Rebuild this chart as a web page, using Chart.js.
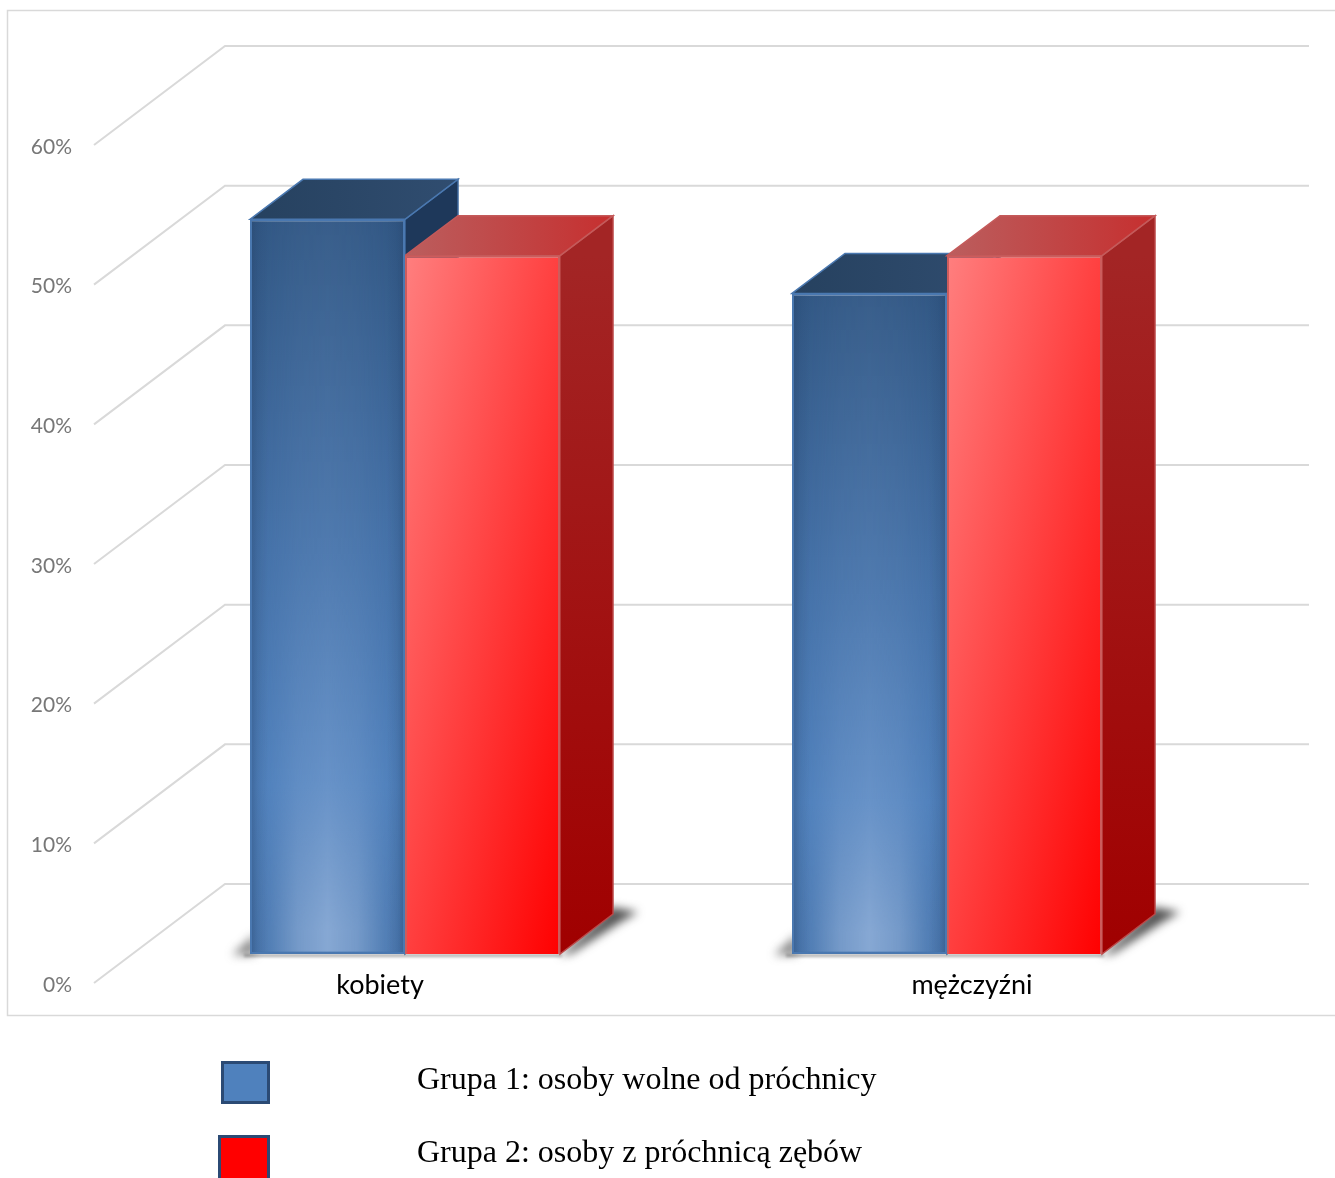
<!DOCTYPE html>
<html lang="pl">
<head>
<meta charset="utf-8">
<title>Próchnica</title>
<script src="https://cdn.jsdelivr.net/npm/chart.js@4"></script>
<style>
  html, body { margin: 0; padding: 0; background: #fff; overflow: hidden; }
  #wrap { position: relative; width: 1335px; height: 1178px; overflow: hidden; }
  canvas { position: absolute; left: 0; top: 0; }
  .swatch { position: absolute; box-sizing: border-box; border: 3px solid #2b4a74; }
  .legendText { position: absolute; left: 417px; font: 32px "Liberation Serif", serif; color: #000; white-space: nowrap; line-height: 40px; }
</style>
</head>
<body>
<div id="wrap">
  <canvas id="cariesChart" width="1335" height="1178"></canvas>
</div>
<script>
// Data
const categories = ["kobiety", "mężczyźni"];
const seriesNames = ["Grupa 1: osoby wolne od próchnicy", "Grupa 2: osoby z próchnicą zębów"];
const group1 = [52.6, 47.3];
const group2 = [50, 50];
const yTicks = [0, 10, 20, 30, 40, 50, 60];

// Fake 3D box: depth of a bar, and where the walls sit relative to the bar plane
const depthX = 53, depthY = 40;
const wallX = 91, wallY = 70, frontX = 40, frontY = 29;
const categoryPct = 0.572;
const categoryLabelShift = [-25, 25];

function barWidth(chart) {
    return chart.scales.x.width / categories.length * categoryPct / 2;
}

function blueFront(c) {
    const y = c.chart.scales.y;
    const top = y.getPixelForValue(c.raw), base = y.getPixelForValue(0);
    // options also get resolved before the layout is done
    if (!isFinite(top) || !isFinite(base)) return "#4a78b0";
    const g = c.chart.ctx.createLinearGradient(0, top, 0, base);
    g.addColorStop(0, "#325885");
    g.addColorStop(0.45, "#4572a9");
    g.addColorStop(0.77, "#4f80bc");
    g.addColorStop(1, "#4a78b0");
    return g;
}

function redFront(c) {
    const { x, y } = c.chart.scales;
    const w = barWidth(c.chart);
    const left = x.getPixelForValue(c.dataIndex);
    const top = y.getPixelForValue(c.raw), base = y.getPixelForValue(0);
    if (![w, left, top, base].every(isFinite)) return "#ff3030";
    const h = base - top;
    // gradient axis runs so that the other two corners get the same colour
    const k = (w * h + w * h) / (h * h + w * w);
    const g = c.chart.ctx.createLinearGradient(left, top, left + h * k, top + w * k);
    g.addColorStop(0, "#ff7f7f");
    g.addColorStop(1, "#ff0000");
    return g;
}

function poly(ctx, pts, fill, stroke) {
    ctx.beginPath();
    pts.forEach((p, i) => i ? ctx.lineTo(p[0], p[1]) : ctx.moveTo(p[0], p[1]));
    ctx.closePath();
    ctx.fillStyle = fill;
    ctx.fill();
    if (stroke) {
        ctx.strokeStyle = stroke;
        ctx.lineWidth = 1.5;
        ctx.stroke();
    }
}

// Soft highlight on the blue bars, brighter towards the floor
function blueGlow(w, h) {
    const off = document.createElement("canvas");
    off.width = Math.ceil(w);
    off.height = Math.ceil(h);
    const o = off.getContext("2d");
    let g = o.createLinearGradient(0, 0, w, 0);
    g.addColorStop(0, "rgba(178,202,236,0)");
    g.addColorStop(0.12, "rgba(178,202,236,0.15)");
    g.addColorStop(0.3, "rgba(178,202,236,0.7)");
    g.addColorStop(0.5, "rgba(178,202,236,1)");
    g.addColorStop(0.7, "rgba(178,202,236,0.7)");
    g.addColorStop(0.88, "rgba(178,202,236,0.15)");
    g.addColorStop(1, "rgba(178,202,236,0)");
    o.fillStyle = g;
    o.fillRect(0, 0, w, h);
    o.globalCompositeOperation = "destination-in";
    g = o.createLinearGradient(0, 0, 0, h);
    g.addColorStop(0, "rgba(0,0,0,0.05)");
    g.addColorStop(0.45, "rgba(0,0,0,0.1)");
    g.addColorStop(0.77, "rgba(0,0,0,0.25)");
    g.addColorStop(0.97, "rgba(0,0,0,0.58)");
    g.addColorStop(1, "rgba(0,0,0,0.58)");
    o.fillStyle = g;
    o.fillRect(0, 0, w, h);
    return off;
}

const box3d = {
    id: "box3d",
    beforeDraw(chart) {
        const ctx = chart.ctx, y = chart.scales.y, area = chart.chartArea;
        ctx.save();
        // outer frame, its right side runs off the page
        ctx.strokeStyle = "#d9d9d9";
        ctx.lineWidth = 1.5;
        ctx.strokeRect(7.5, 10.5, 1340, 1005);
        // gridlines: floor/side wall diagonal, then along the back wall
        ctx.lineWidth = 2;
        yTicks.forEach(v => {
            const py = y.getPixelForValue(v);
            ctx.beginPath();
            ctx.moveTo(area.left - frontX, py + frontY);
            ctx.lineTo(area.left + wallX, py - wallY);
            ctx.lineTo(area.right + wallX, py - wallY);
            ctx.stroke();
        });
        ctx.restore();
    },
    beforeDatasetsDraw(chart) {
        const ctx = chart.ctx, y = chart.scales.y;
        const base = y.getPixelForValue(0);
        const blue = chart.getDatasetMeta(0).data, red = chart.getDatasetMeta(1).data;

        // floor shadows
        ctx.save();
        ctx.filter = "blur(5px)";
        blue.forEach((b, i) => {
            const l = b.x - b.width / 2;
            const r = red[i].x + red[i].width / 2;
            poly(ctx, [[l - 18, base + 1], [l + 5, base - 20], [l + 5, base + 1]], "rgba(70,70,70,0.65)");
            poly(ctx, [[r, base + 2], [r + 12, base - 1], [r + 62, base - 33], [r + 78, base - 42], [r + 50, base - 47], [r + 46, base - 40]], "rgba(50,50,50,0.85)");
        });
        ctx.filter = "blur(1.5px)";
        blue.forEach((b, i) => {
            const l = b.x - b.width / 2;
            const r = red[i].x + red[i].width / 2;
            poly(ctx, [[l - 6, base], [r + 2, base], [r + 2, base + 3], [l - 6, base + 3]], "rgba(90,90,90,0.5)");
        });
        ctx.restore();

        // top and side of each bar, blue first so red overlaps it
        ctx.save();
        blue.forEach(b => {
            const l = b.x - b.width / 2, r = b.x + b.width / 2, t = b.y;
            const gTop = ctx.createLinearGradient(l, 0, r + depthX, 0);
            gTop.addColorStop(0, "#26415f");
            gTop.addColorStop(1, "#304d70");
            poly(ctx, [[r, t], [r + depthX, t - depthY], [r + depthX, base - depthY], [r, base]], "#1e385a", "#3f6a9e");
            poly(ctx, [[l, t], [l + depthX, t - depthY], [r + depthX, t - depthY], [r, t]], gTop, "#4a78b0");
        });
        red.forEach(b => {
            const l = b.x - b.width / 2, r = b.x + b.width / 2, t = b.y;
            const gSide = ctx.createLinearGradient(0, t, 0, base);
            gSide.addColorStop(0, "#a32525");
            gSide.addColorStop(1, "#a00000");
            const gTop = ctx.createLinearGradient(l, 0, r + depthX, 0);
            gTop.addColorStop(0, "#bb5e5e");
            gTop.addColorStop(1, "#c62f2f");
            poly(ctx, [[r, t], [r + depthX, t - depthY], [r + depthX, base - depthY], [r, base]], gSide, "#bc4848");
            poly(ctx, [[l, t], [l + depthX, t - depthY], [r + depthX, t - depthY], [r, t]], gTop, "#c45a5a");
        });
        ctx.restore();
    },
    afterDatasetsDraw(chart) {
        const ctx = chart.ctx;
        ctx.save();
        chart.getDatasetMeta(0).data.forEach(b => {
            const l = b.x - b.width / 2, h = b.base - b.y;
            ctx.drawImage(blueGlow(b.width - 4, h - 4), l + 2, b.y + 2);
            // darker rim on the sides of the column
            const g = ctx.createLinearGradient(l, 0, l + b.width, 0);
            g.addColorStop(0, "rgba(30,55,90,0.35)");
            g.addColorStop(0.05, "rgba(30,55,90,0.12)");
            g.addColorStop(0.12, "rgba(30,55,90,0)");
            g.addColorStop(0.88, "rgba(30,55,90,0)");
            g.addColorStop(0.95, "rgba(30,55,90,0.12)");
            g.addColorStop(1, "rgba(30,55,90,0.35)");
            ctx.fillStyle = g;
            ctx.fillRect(l + 2, b.y + 2, b.width - 4, h - 4);
        });
        // category names sit on the front edge of the floor, pushed outwards
        ctx.font = '27px Lato, sans-serif';
        ctx.fillStyle = "#000";
        ctx.textAlign = "center";
        ctx.textBaseline = "middle";
        categories.forEach((c, i) => {
            ctx.fillText(c, chart.scales.x.getPixelForValue(i) + categoryLabelShift[i], 985);
        });
        ctx.restore();
    }
};

new Chart(document.getElementById("cariesChart"), {
    type: "bar",
    data: {
        labels: categories,
        datasets: [
            {
                label: seriesNames[0],
                data: group1,
                backgroundColor: blueFront,
                borderColor: "#4a78b0",
                borderWidth: 2
            },
            {
                label: seriesNames[1],
                data: group2,
                backgroundColor: redFront,
                borderColor: "#cc5c5c",
                borderWidth: 2
            }
        ]
    },
    plugins: [box3d],
    options: {
        responsive: false,
        animation: false,
        layout: { padding: { top: 116, left: 0, right: 117, bottom: 224 } },
        datasets: { bar: { categoryPercentage: categoryPct, barPercentage: 1 } },
        plugins: {
            legend: { display: false },
            tooltip: { enabled: false }
        },
        scales: {
            x: {
                grid: { display: false },
                border: { display: false },
                ticks: { display: false },
                afterFit(s) { s.height = 0; }
            },
            y: {
                min: 0,
                max: 60,
                afterFit(s) { s.width = 134; },
                afterBuildTicks(s) { s.ticks = yTicks.map(v => ({ value: v })); },
                grid: { display: false, drawTicks: false },
                border: { display: false },
                ticks: {
                    padding: 62,
                    labelOffset: 31,
                    color: "#777777",
                    font: { family: "Lato, sans-serif", size: 21 },
                    callback: v => v + "%"
                }
            }
        }
    }
});

// Legend below the frame
const wrap = document.getElementById("wrap");
const swatches = [
    { left: 221, top: 1061, width: 49, height: 43, background: "#4f81bd" },
    { left: 218, top: 1135, width: 52, height: 60, background: "#ff0000" }
];
swatches.forEach((s, i) => {
    const box = document.createElement("div");
    box.className = "swatch";
    Object.assign(box.style, {
        left: s.left + "px", top: s.top + "px", width: s.width + "px", height: s.height + "px",
        background: s.background
    });
    wrap.appendChild(box);
    const txt = document.createElement("div");
    txt.className = "legendText";
    txt.style.top = (1058 + i * 73) + "px";
    txt.textContent = seriesNames[i];
    wrap.appendChild(txt);
});
</script>
</body>
</html>
